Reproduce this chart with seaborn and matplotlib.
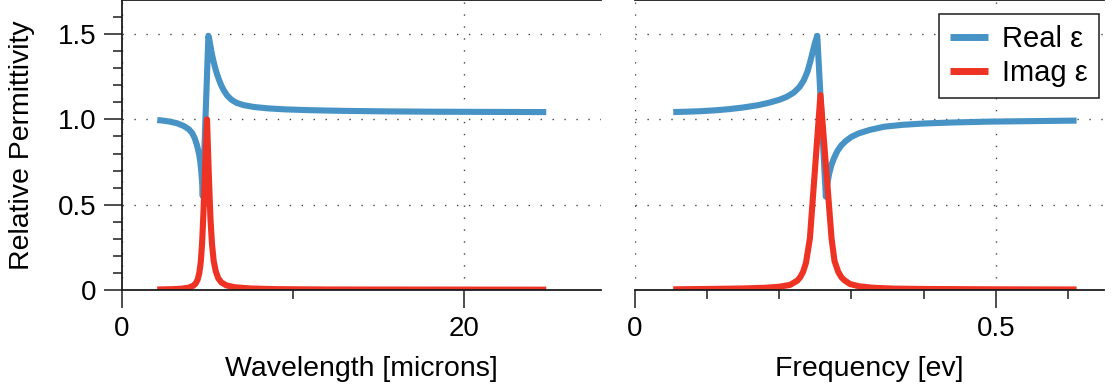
import numpy as np
import pandas as pd
import matplotlib
matplotlib.use("Agg")
import matplotlib.pyplot as plt
from matplotlib.ticker import FixedLocator, FixedFormatter
import seaborn as sns

# Permittivity vs wavelength (microns)
wl_real_x = [2.06, 2.4, 2.8, 3.2, 3.6, 3.9, 4.1, 4.25, 4.38, 4.5, 4.58, 4.64,
             4.69, 4.72, 5.05, 5.1, 5.17, 5.25, 5.34, 5.44, 5.54, 5.66, 5.8,
             5.95, 6.15, 6.4, 6.7, 7.1, 7.7, 8.5, 9.5, 11.0, 13.0, 15.5, 18.5,
             21.5, 24.8]
wl_real_y = [0.996, 0.993, 0.987, 0.978, 0.962, 0.943, 0.92, 0.89, 0.85, 0.80,
             0.75, 0.69, 0.62, 0.55, 1.49, 1.47, 1.43, 1.385, 1.345, 1.305,
             1.27, 1.235, 1.20, 1.17, 1.14, 1.115, 1.097, 1.084, 1.073, 1.065,
             1.059, 1.054, 1.05, 1.047, 1.045, 1.044, 1.043]
wl_imag_x = [2.06, 3.0, 3.5, 3.9, 4.15, 4.3, 4.42, 4.52, 4.6, 4.68, 4.76, 4.86,
             4.97, 5.08, 5.17, 5.26, 5.36, 5.48, 5.62, 5.8, 6.1, 6.6, 7.5, 9.0,
             12.0, 24.8]
wl_imag_y = [0.003, 0.005, 0.008, 0.014, 0.024, 0.037, 0.06, 0.10, 0.16, 0.27,
             0.45, 0.72, 1.0, 0.66, 0.42, 0.27, 0.17, 0.11, 0.07, 0.045, 0.027,
             0.016, 0.009, 0.005, 0.003, 0.002]

# Permittivity vs photon energy (eV)
ev_real_x = [0.053, 0.07, 0.09, 0.11, 0.13, 0.15, 0.17, 0.185, 0.20, 0.21,
             0.22, 0.228, 0.234, 0.239, 0.243, 0.2465, 0.2495, 0.2526, 0.2645,
             0.2665, 0.269, 0.272, 0.276, 0.2805, 0.286, 0.292, 0.30, 0.31,
             0.325, 0.345, 0.37, 0.40, 0.44, 0.49, 0.55, 0.612]
ev_real_y = [1.043, 1.045, 1.048, 1.053, 1.060, 1.070, 1.083, 1.097, 1.115,
             1.132, 1.157, 1.19, 1.23, 1.28, 1.34, 1.40, 1.45, 1.49, 0.547,
             0.62, 0.68, 0.73, 0.775, 0.815, 0.848, 0.873, 0.898, 0.918,
             0.938, 0.957, 0.968, 0.976, 0.982, 0.987, 0.990, 0.993]
ev_imag_x = [0.053, 0.10, 0.15, 0.18, 0.20, 0.215, 0.225, 0.229, 0.233, 0.237,
             0.2424, 0.257, 0.2724, 0.2765, 0.2816, 0.286, 0.29, 0.298, 0.31,
             0.33, 0.36, 0.40, 0.50, 0.612]
ev_imag_y = [0.004, 0.006, 0.009, 0.013, 0.019, 0.03, 0.055, 0.075, 0.107,
             0.16, 0.303, 1.142, 0.303, 0.17, 0.107, 0.075, 0.058, 0.035,
             0.022, 0.013, 0.008, 0.006, 0.004, 0.003]

y_major = [0, 0.5, 1.0, 1.5]
y_major_labels = ["0", "0.5", "1.0", "1.5"]
y_minor = [0.1, 0.2, 0.3, 0.4, 0.6, 0.7, 0.8, 0.9, 1.1, 1.2, 1.3, 1.4, 1.6]
wl_major, wl_major_labels, wl_minor = [0, 20], ["0", "20"], [10]
ev_major, ev_major_labels, ev_minor = [0, 0.5], ["0", "0.5"], [0.1, 0.2, 0.3, 0.4, 0.6]

BLUE = "#4793c6"
RED = "#ee3324"
INK = "#1c1c1c"

sns.set_theme(style="white")
plt.rcParams["font.family"] = ["Liberation Sans", "DejaVu Sans"]
plt.rcParams.update({
    "font.size": 20,
    "text.color": "black",
    "axes.labelcolor": "black",
    "xtick.color": INK,
    "ytick.color": INK,
    "xtick.labelcolor": "black",
    "ytick.labelcolor": "black",
})

fig = plt.figure(figsize=(11.14, 3.91), dpi=100)
ax1 = fig.add_axes([122 / 1114, 1 - 290 / 391, (601 - 122) / 1114, 290 / 391])
ax2 = fig.add_axes([635 / 1114, 1 - 290 / 391, (1104 - 635) / 1114, 290 / 391])

lw = 4.4
sns.lineplot(x=wl_real_x, y=wl_real_y, ax=ax1, color=BLUE, linewidth=lw,
             sort=False, estimator=None)
sns.lineplot(x=wl_imag_x, y=wl_imag_y, ax=ax1, color=RED, linewidth=lw,
             sort=False, estimator=None)
sns.lineplot(x=ev_real_x, y=ev_real_y, ax=ax2, color=BLUE, linewidth=lw,
             sort=False, estimator=None, label="Real ε")
sns.lineplot(x=ev_imag_x, y=ev_imag_y, ax=ax2, color=RED, linewidth=lw,
             sort=False, estimator=None, label="Imag ε")
for ax in (ax1, ax2):
    for ln in ax.get_lines():
        ln.set_solid_capstyle("butt")
        ln.set_solid_joinstyle("round")

ax1.set_xlim(0, 28)
ax2.set_xlim(0, 0.65)
for ax, major, labels, minor in ((ax1, wl_major, wl_major_labels, wl_minor),
                                 (ax2, ev_major, ev_major_labels, ev_minor)):
    ax.set_ylim(0, 1.7)
    ax.xaxis.set_major_locator(FixedLocator(major))
    ax.xaxis.set_major_formatter(FixedFormatter(labels))
    ax.xaxis.set_minor_locator(FixedLocator(minor))
    ax.yaxis.set_major_locator(FixedLocator(y_major))
    ax.yaxis.set_major_formatter(FixedFormatter(y_major_labels))
    ax.yaxis.set_minor_locator(FixedLocator(y_minor))
    ax.set_facecolor("none")
    ax.set_axisbelow(True)
    ax.grid(True, which="major", color="#444444", linewidth=1.0,
            linestyle=(0, (1, 7.6)))
    ax.spines["right"].set_visible(False)
    for s in ("top", "bottom", "left"):
        ax.spines[s].set_color(INK)
        ax.spines[s].set_linewidth(1.3)
    ax.tick_params(axis="both", which="major", direction="out", length=13,
                   width=1.1, labelsize=20, pad=5.5, bottom=True, left=True)
    ax.tick_params(axis="both", which="minor", direction="out", length=6.5,
                   width=1.1, bottom=True, left=True)

ax2.spines["left"].set_visible(False)
ax2.tick_params(axis="y", which="both", left=False, labelleft=False)

ax1.set_xlabel("Wavelength [microns]", fontsize=20.5, labelpad=10)
ax2.set_xlabel("Frequency [ev]", fontsize=20.5, labelpad=10)
ax1.set_ylabel("Relative Permittivity", fontsize=20.5, labelpad=16)
ax2.set_ylabel("")

leg = ax2.legend(loc="upper right",
                 bbox_to_anchor=(1 - 5 / 469, 1 - 14 / 290),
                 borderaxespad=0, fontsize=21, frameon=True, fancybox=False,
                 framealpha=1, edgecolor=INK, handlelength=1.3,
                 handletextpad=0.5, labelspacing=0.2, borderpad=0.38)
leg.get_frame().set_linewidth(1.1)
for h in leg.get_lines():
    h.set_linewidth(5)
leg1 = ax1.get_legend()
if leg1 is not None:
    leg1.remove()

fig.savefig("out.png", dpi=100)
